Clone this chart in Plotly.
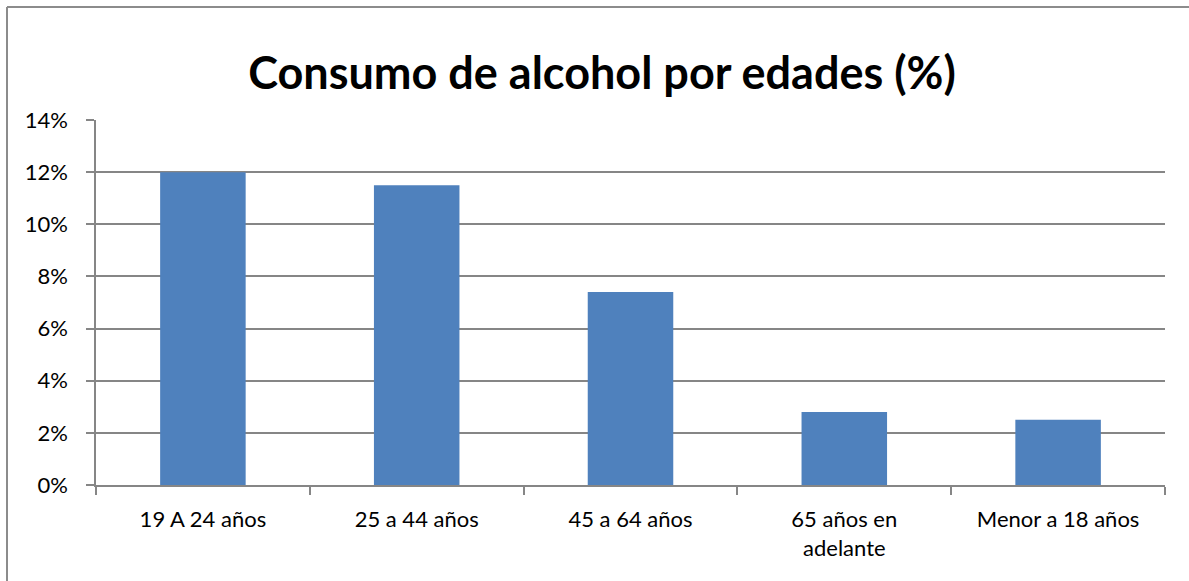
import plotly.graph_objects as go

categories = ["19 A 24 años", "25 a 44 años", "45 a 64 años", "65 años en<br>adelante", "Menor a 18 años"]
values = [12.0, 11.5, 7.4, 2.8, 2.5]
y_ticks = [0, 2, 4, 6, 8, 10, 12, 14]
y_tick_labels = [f"{v}%" for v in y_ticks]
title_text = "Consumo de alcohol por edades (%)"

W, H = 1189, 581
L, R, T, B = 96, 24, 120, 96
pw, ph = W - L - R, H - T - B

fig = go.Figure(go.Bar(x=categories, y=values, marker_color="#4F81BD", width=0.4,
                       marker_line_width=0))

grid = "#868686"
bx0 = (7 - L) / pw
by1 = (H - B - 7) / ph
border = dict(color="#8c8c8c", width=2)
fig.update_layout(
    width=W, height=H,
    margin=dict(l=L, r=R, t=T, b=B, autoexpand=False),
    paper_bgcolor="white", plot_bgcolor="white",
    font=dict(family="Lato", size=22, color="black"),
    showlegend=False,
    title=dict(text="<b>" + title_text + "</b>", font=dict(family="Lato", size=45, color="black"),
               x=602 / W, xref="container", xanchor="center",
               y=1 - 73 / H, yref="container", yanchor="middle"),
    xaxis=dict(showline=True, linecolor=grid, linewidth=1.5, ticks="outside", tickson="boundaries",
               ticklen=8, tickcolor=grid, tickwidth=1.5, showgrid=False, tickangle=0,
               ticklabelstandoff=14,
               tickfont=dict(family="Lato", size=22, color="black")),
    yaxis=dict(range=[0, 14], tickvals=y_ticks, ticktext=y_tick_labels, showline=True, linecolor=grid,
               linewidth=1.5, ticks="outside", ticklen=8, tickcolor=grid, tickwidth=1.5,
               showgrid=True, gridcolor=grid, gridwidth=1.5, zeroline=False,
               ticklabelstandoff=14,
               tickfont=dict(family="Lato", size=22, color="black")),
    shapes=[
        dict(type="line", xref="paper", yref="paper", x0=bx0, x1=(W - L) / pw, y0=by1, y1=by1, line=border),
        dict(type="line", xref="paper", yref="paper", x0=bx0, x1=bx0, y0=-B / ph, y1=by1, line=border),
    ],
)

fig.write_html("out.html", config={"displayModeBar": False},
               post_script="document.documentElement.style.overflow='hidden';"
                           "document.body.style.margin='0';document.body.style.overflow='hidden';")
